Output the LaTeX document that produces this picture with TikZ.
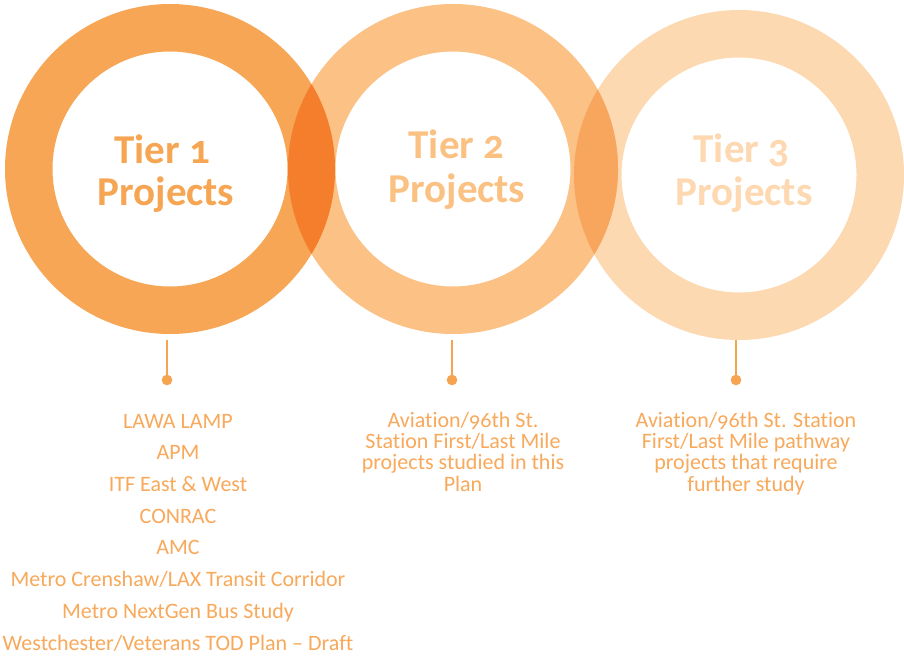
\documentclass[tikz,border=0pt]{standalone}
\usepackage{fontspec}
\setmainfont{Carlito}[Numbers=OldStyle, Ligatures={NoCommon,TeX}]
\definecolor{ringA}{HTML}{F7A655}
\definecolor{ringB}{HTML}{FBC185}
\definecolor{ringC}{HTML}{FDD9B1}
\definecolor{ovAB}{HTML}{F47E2B}
\definecolor{ovBC}{HTML}{F8A55D}
\definecolor{tierAc}{HTML}{F6A553}
\definecolor{tierBc}{HTML}{FBC183}
\definecolor{tierCc}{HTML}{FDD8B0}
\definecolor{listc}{HTML}{F8A95B}
\definecolor{connc}{HTML}{F7A451}
\begin{document}
\begin{tikzpicture}[x=1pt,y=-1pt,
  tierlabel/.style={font=\fontsize{41}{44}\selectfont\bfseries, anchor=base, inner sep=0pt},
  listline/.style={font=\fontsize{22}{24}\selectfont, text=listc, anchor=base, inner sep=0pt},
  dotnode/.style={circle, fill=connc, minimum size=10.6pt, inner sep=0pt},
  conn/.style={draw=connc, line width=2.3pt}]
\useasboundingbox (0,0) rectangle (904,658);
\fill[white] (0,0) rectangle (904,658);
\coordinate (c1) at (170,169);
\coordinate (c2) at (453,169);
\coordinate (c3) at (739,175);
% rings
\fill[ringC, even odd rule] (c3) circle[radius=165pt] (c3) circle[radius=117.5pt];
\fill[ringB, even odd rule] (c2) circle[radius=165pt] (c2) circle[radius=117.5pt];
\fill[ringA, even odd rule] (c1) circle[radius=165pt] (c1) circle[radius=117.5pt];
% overlaps
\begin{scope}
  \clip (c1) circle[radius=165pt];
  \fill[ovAB, even odd rule] (c2) circle[radius=165pt] (c2) circle[radius=117.5pt];
\end{scope}
\begin{scope}
  \clip (c2) circle[radius=165pt];
  \fill[ovBC, even odd rule] (c3) circle[radius=165pt] (c3) circle[radius=117.5pt];
\end{scope}
% tier labels
\node[tierlabel, text=tierAc] (tierAa) at (162,163) {Tier 1};
\node[tierlabel, text=tierAc] (tierAb) at (166,205) {Projects};
\node[tierlabel, text=tierBc] (tierBa) at (456.5,158) {Tier 2};
\node[tierlabel, text=tierBc] (tierBb) at (457,202) {Projects};
\node[tierlabel, text=tierCc] (tierCa) at (741.5,162) {Tier 3};
\node[tierlabel, text=tierCc] (tierCb) at (744,205) {Projects};
% connectors
\coordinate (s1) at (167,340);
\coordinate (s2) at (452,340);
\coordinate (s3) at (736,340);
\node[dotnode] (d1) at (167,380) {};
\node[dotnode] (d2) at (452,380) {};
\node[dotnode] (d3) at (736,380) {};
\draw[conn] (s1) -- (d1.center);
\draw[conn] (s2) -- (d2.center);
\draw[conn] (s3) -- (d3.center);
% left list
\node[listline] (la) at (178,428) {LAWA LAMP};
\node[listline] (lb) at (178,459.7) {APM};
\node[listline] (lc) at (178,491.4) {ITF East \& West};
\node[listline] (ld) at (178,523.1) {CONRAC};
\node[listline] (le) at (178,554.8) {AMC};
\node[listline] (lf) at (178,586.5) {Metro Crenshaw/LAX Transit Corridor};
\node[listline] (lg) at (178,618.2) {Metro NextGen Bus Study};
\node[listline] (lh) at (178,650) {Westchester/Veterans TOD Plan -- Draft};
% middle text
\node[listline] (ma) at (463,427) {Aviation/96th St.};
\node[listline] (mb) at (463,448.3) {Station First/Last Mile};
\node[listline] (mc) at (463,469.6) {projects studied in this};
\node[listline] (md) at (463,491) {Plan};
% right text
\node[listline] (ra) at (746,427) {Aviation/96th St. Station};
\node[listline] (rb) at (746,448.3) {First/Last Mile pathway};
\node[listline] (rc) at (746,469.6) {projects that require};
\node[listline] (rd) at (746,491) {further study};
\end{tikzpicture}
\end{document}
